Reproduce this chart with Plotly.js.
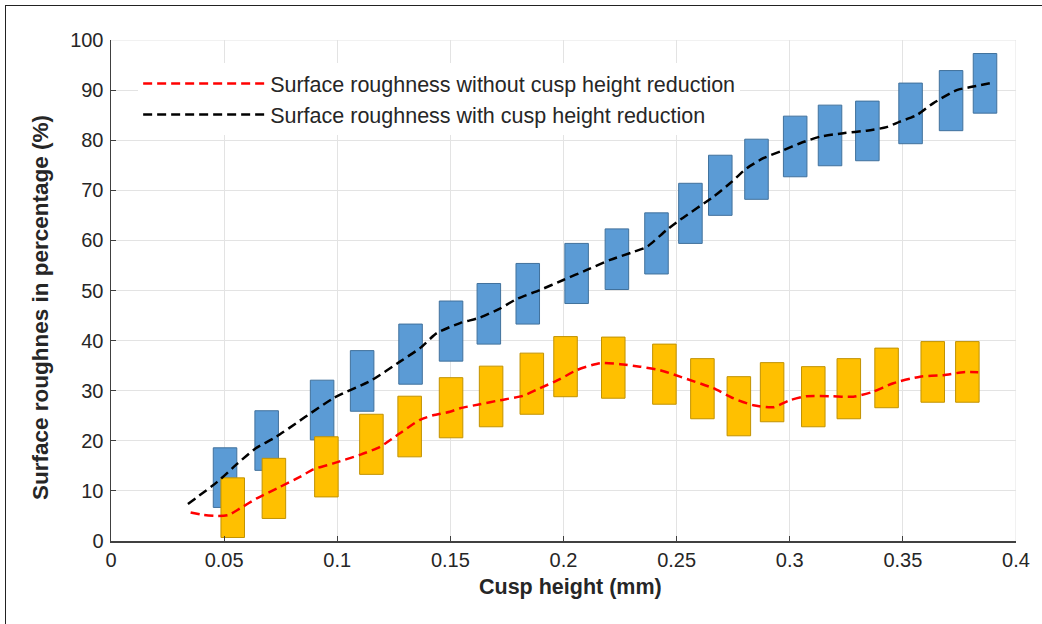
<!DOCTYPE html>
<html>
<head>
<meta charset="utf-8">
<script src="https://cdn.plot.ly/plotly-3.0.1.min.js"></script>
<style>
  html, body { margin: 0; padding: 0; background: #fff; }
  #wrap { position: relative; width: 1042px; height: 624px; overflow: hidden; }
  #chart { position: absolute; left: 0; top: 0; width: 1042px; height: 624px; }
  #frame { position: absolute; left: 5px; top: 5px; width: 1100px; height: 700px;
           border-left: 1.5px solid #222; border-top: 1.5px solid #222; pointer-events: none; }
</style>
</head>
<body>
<div id="wrap">
  <div id="chart"></div>
  <div id="frame"></div>
</div>
<script>
// Bars: surface roughness with cusp height reduction (blue)
var blueX    = [0.0504,0.0688,0.0933,0.1110,0.1324,0.1503,0.1670,0.1842,0.2058,0.2236,0.2411,0.2561,0.2693,0.2853,0.3024,0.3178,0.3343,0.3534,0.3713,0.3863];
var blueHigh = [18.6,26.0,32.1,38.0,43.3,47.9,51.4,55.4,59.4,62.3,65.5,71.4,77.0,80.2,84.8,87.0,87.8,91.4,93.9,97.3];
var blueLow  = [6.7,14.1,20.2,25.9,31.3,35.9,39.3,43.3,47.4,50.2,53.3,59.4,65.0,68.2,72.7,74.9,75.9,79.3,81.9,85.4];

// Bars: surface roughness without cusp height reduction (yellow)
var yellowX    = [0.0538,0.0720,0.0952,0.1151,0.1320,0.1503,0.1680,0.1860,0.2009,0.2220,0.2446,0.2614,0.2775,0.2922,0.3104,0.3261,0.3428,0.3632,0.3785];
var yellowHigh = [12.6,16.5,20.8,25.3,28.9,32.6,34.9,37.5,40.8,40.7,39.3,36.4,32.8,35.6,34.8,36.4,38.5,39.8,39.8];
var yellowLow  = [0.7,4.5,8.8,13.3,16.8,20.6,22.8,25.3,28.8,28.5,27.3,24.4,21.0,23.8,22.8,24.4,26.6,27.7,27.7];

// Trend line: with cusp height reduction (black)
var withX = [0.034,0.047,0.056,0.064,0.073,0.0983,0.1152,0.1277,0.1366,0.144,0.1543,0.1631,0.1719,0.1793,0.1896,0.1999,0.2103,0.2206,0.2309,0.2368,0.2456,0.2515,0.2662,0.2736,0.281,0.2883,0.2972,0.3046,0.3134,0.3237,0.334,0.3428,0.3487,0.3561,0.3635,0.3738,0.3811,0.39];
var withY = [7.4,11.8,15.5,18.5,20.8,28.5,32.1,35.8,38.5,41.5,43.5,44.6,46.4,48.3,50.1,52.1,54.1,56.1,57.7,58.7,62.1,64.1,68.7,71.4,74.4,76.4,78.0,79.4,80.7,81.4,81.9,82.6,83.7,85.0,87.4,90.0,90.7,91.5];

// Trend line: without cusp height reduction (red)
var withoutX = [0.0352,0.0408,0.0467,0.0519,0.057,0.0644,0.0747,0.0835,0.0894,0.0983,0.11,0.1189,0.1277,0.1366,0.1424,0.1498,0.1543,0.1631,0.1719,0.1822,0.1896,0.1984,0.2058,0.2161,0.225,0.2338,0.2427,0.2515,0.2662,0.275,0.2839,0.2927,0.3001,0.3075,0.3178,0.3281,0.3369,0.3458,0.3576,0.3679,0.3767,0.3833];
var withoutY = [5.7,5.2,5.0,5.2,6.5,8.5,10.8,12.8,14.3,15.5,17.2,18.8,21.5,24.2,25.1,25.8,26.5,27.3,28.1,29.0,30.5,32.3,34.1,35.5,35.3,34.8,34.1,32.8,30.5,28.5,27.1,26.7,28.1,28.9,28.9,28.8,29.8,31.5,32.8,33.1,33.7,33.7];

var xTickVals = [0,0.05,0.1,0.15,0.2,0.25,0.3,0.35,0.4];
var xTickText = ['0','0.05','0.1','0.15','0.2','0.25','0.3','0.35','0.4'];
var yTickVals = [0,10,20,30,40,50,60,70,80,90,100];

var legendNames = ['Surface roughness without cusp height reduction', 'Surface roughness with cusp height reduction'];
var xTitle = 'Cusp height (mm)';
var yTitle = 'Surface roughnes in percentage (%)';

function diff(a, b) { return a.map(function (v, i) { return v - b[i]; }); }

var BAR_W = 0.0104;
var FONT = 'Liberation Sans, Arial, sans-serif';

var traces = [
  {
    type: 'bar', x: blueX, y: diff(blueHigh, blueLow), base: blueLow,
    width: BAR_W, showlegend: false, hoverinfo: 'skip',
    marker: { color: '#5B9BD5', line: { color: '#41719C', width: 1 } }
  },
  {
    type: 'bar', x: yellowX, y: diff(yellowHigh, yellowLow), base: yellowLow,
    width: BAR_W, showlegend: false, hoverinfo: 'skip',
    marker: { color: '#FFC000', line: { color: '#C29200', width: 1 } }
  },
  {
    type: 'scatter', mode: 'lines', x: withoutX, y: withoutY, name: legendNames[0],
    line: { color: '#FF0000', width: 2.5, dash: '9px,5px', shape: 'spline', smoothing: 0.6 }
  },
  {
    type: 'scatter', mode: 'lines', x: withX, y: withY, name: legendNames[1],
    line: { color: '#000000', width: 2.5, dash: '9px,5px', shape: 'spline', smoothing: 0.6 }
  }
];

var layout = {
  width: 1042, height: 624,
  margin: { l: 111, r: 26, t: 40, b: 83 },
  paper_bgcolor: 'rgba(0,0,0,0)', plot_bgcolor: '#fff',
  barmode: 'overlay',
  font: { family: FONT, color: '#262626', size: 20 },
  showlegend: true,
  legend: {
    x: 0.03, y: 0.954, xanchor: 'left', yanchor: 'top',
    bgcolor: '#fff', borderwidth: 0,
    font: { family: FONT, size: 21.5, color: '#262626' },
    itemwidth: 122, tracegroupgap: 0
  },
  xaxis: {
    range: [0, 0.4], tickvals: xTickVals, ticktext: xTickText,
    showgrid: true, gridcolor: '#e3e3e3', gridwidth: 1,
    zeroline: false, showline: true, linecolor: '#404040', linewidth: 1.5,
    ticks: 'inside', ticklen: 5, tickcolor: '#404040',
    tickfont: { family: FONT, size: 20, color: '#262626' }
  },
  yaxis: {
    range: [0, 100], tickvals: yTickVals,
    showgrid: true, gridcolor: '#e3e3e3', gridwidth: 1,
    zeroline: false, showline: true, linecolor: '#404040', linewidth: 1.5,
    ticks: 'inside', ticklen: 5, tickcolor: '#404040', ticklabelstandoff: 2,
    tickfont: { family: FONT, size: 20, color: '#262626' }
  },
  annotations: [
    { text: '<b>' + xTitle + '</b>', xref: 'paper', yref: 'paper', x: 0.508, y: 0,
      xanchor: 'center', yanchor: 'middle', yshift: -46, showarrow: false,
      font: { family: FONT, size: 21.5, color: '#262626' } },
    { text: '<b>' + yTitle + '</b>', xref: 'paper', yref: 'paper', x: 0, y: 0.465,
      xanchor: 'center', yanchor: 'middle', xshift: -71, textangle: -90, showarrow: false,
      font: { family: FONT, size: 22.5, color: '#262626' } }
  ],
  shapes: [
    { type: 'line', xref: 'x', yref: 'paper', x0: 0.4, x1: 0.4, y0: 0, y1: 1, line: { color: '#e3e3e3', width: 1 }, layer: 'below' },
    { type: 'line', xref: 'paper', yref: 'y', x0: 0, x1: 1, y0: 100, y1: 100, line: { color: '#e3e3e3', width: 1 }, layer: 'below' }
  ]
};

Plotly.newPlot('chart', traces, layout, { displayModeBar: false, staticPlot: true });
</script>
</body>
</html>
